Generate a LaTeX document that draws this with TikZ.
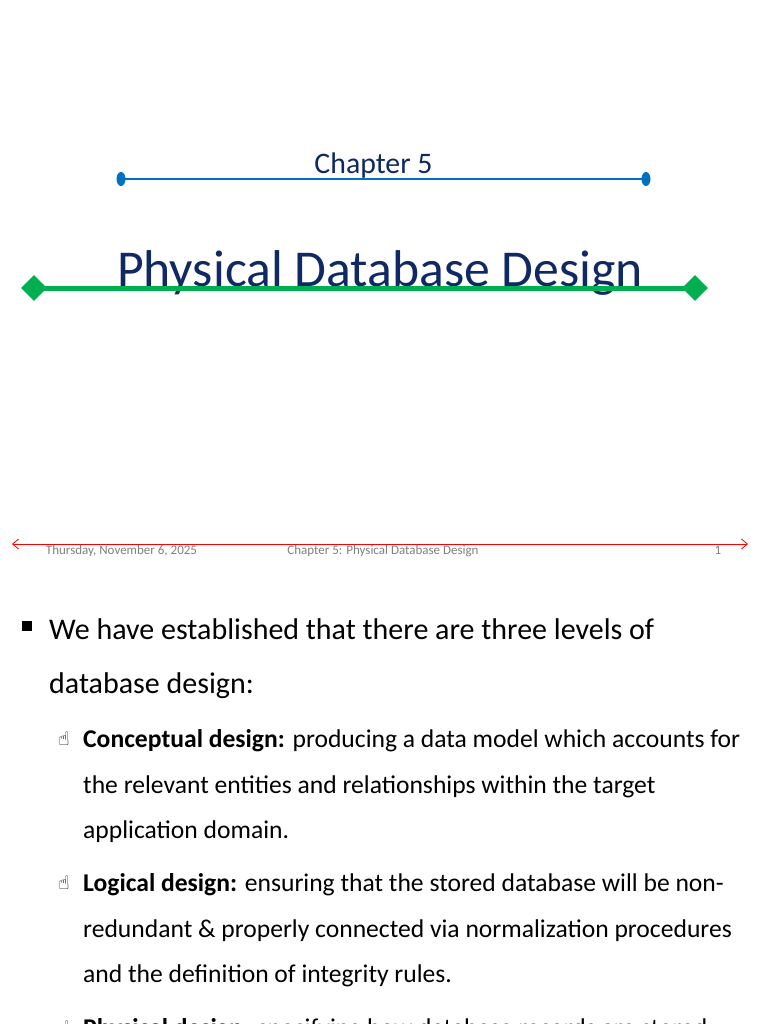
\documentclass[tikz,border=0pt]{standalone}
\usepackage{fontspec}
\setmainfont{Carlito}
\newfontfamily\symfont{DejaVu Sans}
\usetikzlibrary{arrows.meta,shapes.geometric}
\definecolor{titleblue}{RGB}{16,40,100}
\definecolor{lineblue}{RGB}{0,112,192}
\definecolor{linegreen}{RGB}{0,176,80}
\begin{document}
\begin{tikzpicture}[x=1pt,y=-1pt,
  body/.style = {anchor=base west, inner sep=0pt, font=\fontsize{30}{30}\selectfont},
  sub/.style = {anchor=base west, inner sep=0pt, font=\fontsize{25.6}{25.6}\selectfont},
  foot/.style = {anchor=base, inner sep=0pt, text=gray, font=\fontsize{13}{13}\selectfont},
  hand/.style = {anchor=base west, inner sep=0pt, font=\symfont\fontsize{19}{19}\selectfont}]
    \clip (0,0) rectangle (768,1024);
    \fill[white] (0,0) rectangle (768,1024);

    % title slide
    \node[anchor=base, inner sep=0pt, text=titleblue, font=\fontsize{29.8}{29.8}\selectfont] (chap) at (373.5,174) {Chapter 5};
    \coordinate (b1) at (121,179);
    \coordinate (b2) at (646,179);
    \draw[lineblue, line width=2.5pt] (b1) -- (b2);
    \fill[lineblue] (b1) ellipse (4.5 and 7);
    \fill[lineblue] (b2) ellipse (4.5 and 7);

    \node[anchor=base, inner sep=0pt, text=titleblue, font=\fontsize{51.7}{51.7}\selectfont] (title) at (380,286) {Physical Database Design};
    \node[diamond, fill=linegreen, minimum size=26pt, inner sep=0pt] (g1) at (34,288) {};
    \node[diamond, fill=linegreen, minimum size=26pt, inner sep=0pt] (g2) at (695,288) {};
    \draw[linegreen, line width=5pt] (g1.center) -- (g2.center);

    % footer
    \coordinate (r1) at (12,544);
    \coordinate (r2) at (748,544);
    \draw[red, line width=0.8pt, {Straight Barb[length=6pt,width=10pt]}-{Straight Barb[length=6pt,width=10pt]}] (r1) -- (r2);
    \node[foot] (date) at (121.5,554) {Thursday, November 6, 2025};
    \node[foot] (ftitle) at (383,554) {Chapter 5: Physical Database Design};
    \node[foot] (page) at (718,554) {1};

    % second slide
    \fill (22,621) rectangle (32,631);
    \node[body] (l1) at (49,639) {We have established that there are three levels of};
    \node[body] (l2) at (49,693) {database design:};

    \node[hand] (h1) at (58,745) {☝};
    \node[sub] (c1) at (83,747) {\textbf{Conceptual design:} producing a data model which accounts for};
    \node[sub] (c2) at (83,793) {the relevant entities and relationships within the target};
    \node[sub] (c3) at (83,838) {application domain.};

    \node[hand] (h2) at (58,889) {☝};
    \node[sub] (d1) at (83,891) {\textbf{Logical design:} ensuring that the stored database will be non-};
    \node[sub] (d2) at (83,937) {redundant \& properly connected via normalization procedures};
    \node[sub] (d3) at (83,982) {and the definition of integrity rules.};

    \node[hand] (h3) at (58,1034) {☝};
    \node[sub] (e1) at (83,1036) {\textbf{Physical design:} specifying how database records are stored};
\end{tikzpicture}
\end{document}
